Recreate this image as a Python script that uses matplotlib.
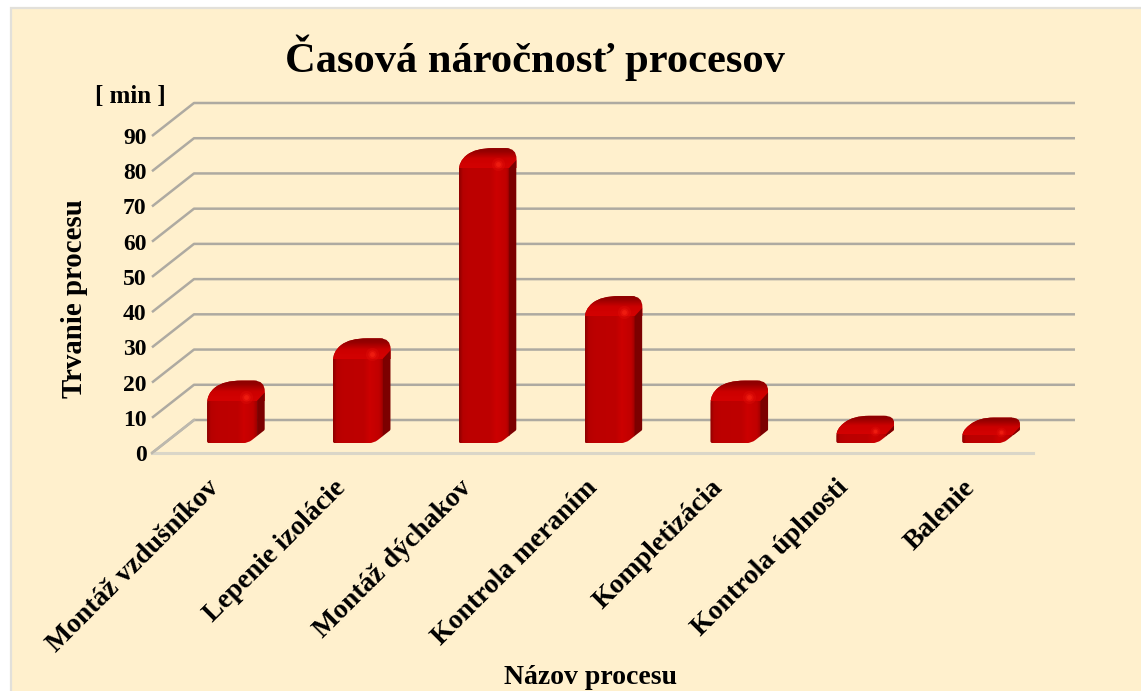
import numpy as np
import matplotlib
matplotlib.use("Agg")
import matplotlib.pyplot as plt
from matplotlib.patches import PathPatch, Rectangle
from matplotlib.path import Path
from matplotlib.transforms import ScaledTranslation
from matplotlib.colors import to_rgb

categories = ["Montáž vzdušníkov", "Lepenie izolácie", "Montáž dýchakov",
              "Kontrola meraním", "Kompletizácia", "Kontrola úplnosti", "Balenie"]
values = [14, 26, 80, 38, 14, 4, 3.5]
y_ticks = list(range(0, 100, 10))
title = "Časová náročnosť procesov"
y_label = "Trvanie procesu"
x_label = "Názov procesu"
unit_label = "[ min ]"

W, H = 1141, 691
plt.rcParams["font.family"] = ["Liberation Serif", "DejaVu Serif"]
plt.rcParams["font.weight"] = "bold"
fig = plt.figure(figsize=(W / 100, H / 100), dpi=100, facecolor="white")

# panel
fig.add_artist(Rectangle((10.5 / W, -0.01), (W + 20) / W, (H - 8 + 7) / H, transform=fig.transFigure,
                         facecolor="#FFF0CD", edgecolor="#E2E0DA", linewidth=1.6, zorder=-5))

ax = fig.add_axes([152 / W, (H - 453) / H, 881 / W, 317 / H], zorder=2)
ax.patch.set_alpha(0)
for s in ax.spines.values():
    s.set_visible(False)

PXX, PXY = 881 / 7, 317 / 90        # pixels per category / per value unit
DX, DY = 42 / PXX, 33 / PXY         # floor depth in data units
D0, D1 = 0.30, 0.70                 # bar depth range
BW = 41 / PXX
SIDE_INSET = 9 / PXX                # rounded front face spreads over the near side

def P(c, v, d):
    return (c + d * DX, v + d * DY)

GRID = "#AEAAA1"
for t in y_ticks:
    a, b = P(0, t, 0), P(0, t, 1)
    c = P(7, t, 1)
    ax.plot([a[0], b[0], c[0]], [a[1], b[1], c[1]], color=GRID, lw=1.8, clip_on=False,
            solid_joinstyle="round", solid_capstyle="butt", zorder=1)
ax.plot([0, 7], [0, 0], color="#DAD6C8", lw=2.2, clip_on=False, zorder=1.5)
a, b = P(0, 0, 0), P(0, 0, 1)
ax.plot([a[0], b[0]], [a[1], b[1]], color="#BDB9AE", lw=1.8, clip_on=False, zorder=1.6)

def rounded(pts, radii):
    """Closed path through pts, corners rounded by radii (in pixels)."""
    verts, codes = [], []
    n = len(pts)
    for i in range(n):
        p = np.array(pts[i]); prev = np.array(pts[i - 1]); nxt = np.array(pts[(i + 1) % n])
        scale = np.array([PXX, PXY])
        def toward(q, r):
            d = (q - p) * scale
            L = np.hypot(*d)
            return p + (q - p) * min(r / L, 0.5) if L > 0 else p
        s, e = toward(prev, radii[i]), toward(nxt, radii[i])
        verts += [tuple(s), tuple(p), tuple(e)]
        codes += [Path.LINETO, Path.CURVE3, Path.CURVE3]
    codes[0] = Path.MOVETO
    verts.append(verts[0]); codes.append(Path.CLOSEPOLY)
    return Path(verts, codes)

def cmap_img(stops, n=64):
    xs = np.linspace(0, 1, n)
    cols = np.array([to_rgb(c) for _, c in stops])
    pos = [p for p, _ in stops]
    return np.stack([np.interp(xs, pos, cols[:, k]) for k in range(3)], axis=-1)

FRONT = [(0, "#8E0000"), (0.07, "#B60000"), (0.2, "#BC0000"), (0.62, "#BE0000"), (0.74, "#CC0000"),
         (0.93, "#C00000"), (1, "#A00000")]
TOP = [(0, "#D40202"), (0.45, "#CC0000"), (0.8, "#960000"), (1, "#8A0000")]

centers = [i + 0.5 for i in range(len(values))]
bars = ax.bar([c + D0 * DX for c in centers], values, width=BW, bottom=D0 * DY,
              color="none", zorder=2)

for cx, v in zip(centers, values):
    c0, c1 = cx - BW / 2, cx + BW / 2
    pts = [P(c0, 0, D0), P(c1, 0, D0), P(c1, 0, D1), P(c1, v, D1), P(c0, v, D1), P(c0, v, D0)]
    hpx = v * PXY
    r = min(11, hpx * 0.5 + 3)
    sil = PathPatch(rounded(pts, [2, 5, 1, r, r * 1.6, r * 0.9]), transform=ax.transData,
                    facecolor="none", edgecolor="none")
    ax.add_patch(sil)
    # front gradient
    x0 = P(c0, 0, D0)[0]
    x1 = P(c1, 0, D0)[0] + SIDE_INSET
    y0, y1 = D0 * DY, v + D1 * DY
    im = ax.imshow(cmap_img(FRONT)[None, :, :], extent=[x0, x1, y0, y1], aspect="auto",
                   zorder=2.1, interpolation="bilinear", clip_on=True)
    im.set_clip_path(sil)
    # top gradient
    xr = P(c1, 0, D1)[0]
    bevel = min(2.0, 0.35 * v)
    ytop0, ytop1 = v + D0 * DY - bevel, v + D1 * DY
    im2 = ax.imshow(cmap_img(TOP)[:, None, :], extent=[x0, xr, ytop0, ytop1], aspect="auto",
                    zorder=2.2, interpolation="bilinear", origin="lower")
    im2.set_clip_path(sil)
    # side face
    side = [(x1, 0), (x1, ytop0), (xr, ytop0 + 2.4), (xr, 0)]
    sp = ax.fill([p[0] for p in side], [p[1] for p in side], color="#7C0000", lw=0, zorder=2.3)[0]
    sp.set_clip_path(sil)
    # highlight
    hx, hy = x0 + 0.78 * (x1 - x0), ytop0 + 0.6 * bevel
    for s, al in ((90, 0.14), (36, 0.26), (12, 0.45)):
        ax.scatter([hx], [hy], s=s * (0.55 if v < 6 else 1), color="#FF2A18", alpha=al, lw=0,
                   zorder=2.4, clip_on=False).set_clip_path(sil)

ax.set_xlim(0, 7)
ax.set_ylim(0, 90)
ax.set_yticks(y_ticks)
ax.set_yticklabels([str(t) for t in y_ticks], fontsize=17, fontweight="bold", color="black")
ax.tick_params(axis="y", length=0, pad=4)
ax.set_xticks(centers)
ax.set_xticklabels(categories, rotation=45, ha="right", rotation_mode="anchor",
                   fontsize=20, fontweight="bold", color="black")
ax.tick_params(axis="x", length=0, pad=16)
off = ScaledTranslation(-8 / 100, 0, fig.dpi_scale_trans)
for lb in ax.get_xticklabels():
    lb.set_transform(lb.get_transform() + off)

def ftext(x, y, s, **kw):
    fig.text(x / W, 1 - y / H, s, ha="center", va="center", fontweight="bold", color="black", zorder=3, **kw)

ftext(535, 58, title, fontsize=30.6)
ftext(130, 97, unit_label, fontsize=18)
ftext(75, 299, y_label, fontsize=20.8, rotation=90)
ftext(591, 677, x_label, fontsize=20)

fig.savefig("out.png", dpi=100, facecolor="white")
